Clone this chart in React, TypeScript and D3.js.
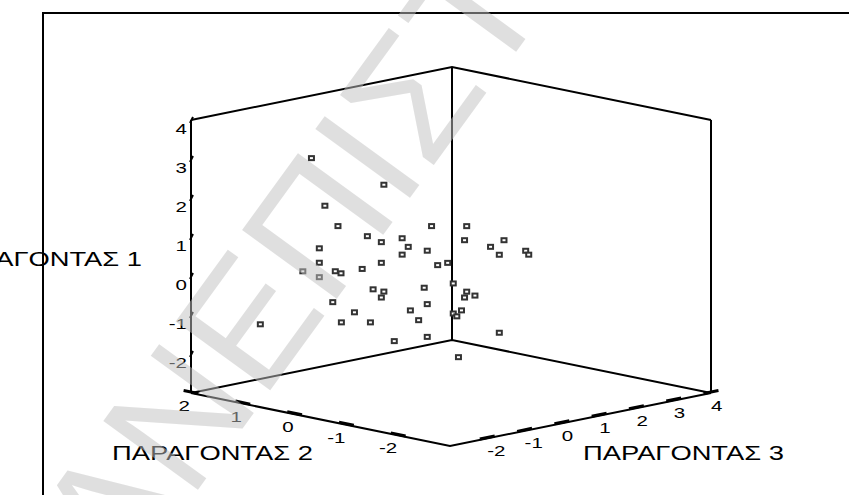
import React from "react";
import * as d3 from "d3";

// factor scores (depth split evenly between factor 2 and 3)
const factor1 = [
  2.98, 2.3, 1.76, 1.24, 0.98, 1.24, 1.24, 0.83, 0.93, 0.71, 0.88, 0.88, 0.71,
  0.61, 0.51, 0.51, 0.67, 0.61, 0.51, 0.3, 0.3, 0.24, 0.3, 0.08, 0.08, 0.03,
  0.14, -0.07, -0.23, -0.34, -0.38, -0.44, -0.59, -0.44, -0.59, -0.54, -0.76,
  -0.71, -0.92, -0.92, -1.0, -1.07, -0.97, -1.23, -1.23, -1.17, -1.28, -1.49,
  -1.6, -1.71, -2.12,
];
const factor2 = [
  0.92, 0.22, 0.79, 0.66, 0.38, -0.24, -0.58, 0.24, 0.04, -0.02, -0.56, -0.94,
  -0.81, -1.15, -1.18, -0.9, 0.84, -0.2, 0.04, 0.84, 0.24, -0.3, -0.4, 1.0,
  0.69, 0.63, 0.43, 0.84, -0.45, -0.17, 0.32, 0.22, 0.24, -0.58, -0.56, -0.66,
  -0.2, 0.71, -0.04, -0.53, -0.45, -0.49, 0.5, 0.63, 0.35, -0.12, 1.41, -0.9,
  -0.2, 0.12, -0.5,
];
const factor3 = [
  -1.27, -0.3, -1.09, -0.92, -0.52, 0.34, 0.81, -0.34, -0.06, 0.02, 0.78, 1.31,
  1.13, 1.6, 1.64, 1.24, -1.17, 0.28, -0.06, -1.17, -0.34, 0.42, 0.55, -1.39,
  -0.95, -0.88, -0.59, -1.17, 0.63, 0.24, -0.45, -0.3, -0.34, 0.81, 0.78, 0.92,
  0.28, -0.99, 0.05, 0.74, 0.63, 0.67, -0.7, -0.87, -0.48, 0.16, -1.96, 1.24,
  0.28, -0.16, 0.7,
];

const ticks1 = [-2, -1, 0, 1, 2, 3, 4];
const ticks2 = [-2, -1, 0, 1, 2];
const ticks3 = [-2, -1, 0, 1, 2, 3, 4];

const title1 = "ΠΑΡΑΓΟΝΤΑΣ 1";
const title2 = "ΠΑΡΑΓΟΝΤΑΣ 2";
const title3 = "ΠΑΡΑΓΟΝΤΑΣ 3";
const watermark = "ΠΑΝΕΠΙΣΤΗΜΙΟ";

const W = 849;
const H = 495;
const SX = 1.366; // SPSS output is stretched horizontally
const FONT = "'Liberation Sans', Arial, sans-serif";

// oblique projection of the cube
const origin: [number, number] = [450, 446];
const ax1: [number, number] = [0, -273];
const ax2: [number, number] = [-259, -53];
const ax3: [number, number] = [261, -53];

const s1 = d3.scaleLinear().domain([-3, 4]).range([0, 1]);
const s2 = d3.scaleLinear().domain([-3, 2]).range([0, 1]);
const s3 = d3.scaleLinear().domain([-3, 4]).range([0, 1]);

const proj = (a: number, b: number, c: number): [number, number] => {
  const t1 = s1(a), t2 = s2(b), t3 = s3(c);
  return [
    origin[0] + t1 * ax1[0] + t2 * ax2[0] + t3 * ax3[0],
    origin[1] + t1 * ax1[1] + t2 * ax2[1] + t3 * ax3[1],
  ];
};

const Label = ({ x, y, text, size, anchor }: any) => (
  <text
    transform={`translate(${x},${y}) scale(${SX},1)`}
    fontSize={size}
    fontFamily={FONT}
    textAnchor={anchor}
    fill="#000"
  >
    {text}
  </text>
);

export default function App() {
  const [lo1, hi1] = s1.domain();
  const [lo2, hi2] = s2.domain();
  const [lo3, hi3] = s3.domain();

  const line = d3.line();
  const P = (a: number, b: number, c: number) => proj(a, b, c);

  const edges: [number, number][][] = [
    // floor
    [P(lo1, hi2, lo3), P(lo1, lo2, lo3), P(lo1, lo2, hi3)],
    [P(lo1, hi2, lo3), P(lo1, hi2, hi3), P(lo1, lo2, hi3)],
    // verticals
    [P(lo1, hi2, lo3), P(hi1, hi2, lo3)],
    [P(lo1, hi2, hi3), P(hi1, hi2, hi3)],
    [P(lo1, lo2, hi3), P(hi1, lo2, hi3)],
    // top of walls
    [P(hi1, hi2, lo3), P(hi1, hi2, hi3), P(hi1, lo2, hi3)],
  ];

  const pts = factor1.map((f, i) => proj(f, factor2[i], factor3[i]));

  return (
    <svg
      width={W}
      height={H}
      style={{ position: "absolute", left: 0, top: 0, background: "#fff" }}
    >
      <rect width={W} height={H} fill="#fff" />
      {/* outer frame */}
      <path d="M43,497 L43,13 L851,13" fill="none" stroke="#000" strokeWidth={2} />

      {edges.map((e, i) => (
        <path key={i} d={line(e) || ""} fill="none" stroke="#000" strokeWidth={2} />
      ))}

      {/* axis 1 ticks + labels */}
      {ticks1.map((t) => {
        const [x, y] = P(t, hi2, lo3);
        return (
          <g key={"a" + t}>
            <path d={`M${x - 1},${y + 3} L${x + 2},${y - 3}`} stroke="#000" strokeWidth={2} />
            <Label x={x - 4} y={y + 14} text={String(t)} size={15} anchor="end" />
          </g>
        );
      })}
      {/* axis 2 */}
      {ticks2.map((t) => {
        const [x, y] = P(lo1, t, lo3);
        const dx = ax2[0] / 5 / 14, dy = ax2[1] / 5 / 14;
        return (
          <g key={"b" + t}>
            <path
              d={`M${x - dx * 2},${y - dy * 2 - 1} L${x + dx * 2},${y + dy * 2 - 1}`}
              stroke="#000"
              strokeWidth={3}
            />
            <Label x={x - 1} y={y + 18} text={String(t)} size={15} anchor="end" />
          </g>
        );
      })}
      {/* axis 3 */}
      {ticks3.map((t) => {
        const [x, y] = P(lo1, lo2, t);
        const dx = ax3[0] / 7 / 10, dy = ax3[1] / 7 / 10;
        return (
          <g key={"c" + t}>
            <path
              d={`M${x - dx * 2},${y - dy * 2 - 1} L${x + dx * 2},${y + dy * 2 - 1}`}
              stroke="#000"
              strokeWidth={3}
            />
            <Label x={x} y={y + 17.5} text={String(t)} size={15} anchor="start" />
          </g>
        );
      })}

      <Label x={142} y={266} text={title1} size={20} anchor="end" />
      <Label x={112} y={460} text={title2} size={20} anchor="start" />
      <Label x={583} y={460} text={title3} size={20} anchor="start" />

      {pts.map(([x, y], i) => (
        <rect
          key={i}
          x={x - 2.5}
          y={y - 2}
          width={5}
          height={4}
          fill="#fff"
          stroke="#333"
          strokeWidth={2}
        />
      ))}

      {/* watermark */}
      <g opacity={0.5}>
        <text
          transform="translate(51,692) rotate(-54)"
          fontSize={170}
          fontFamily={FONT}
          fill="#c1c1c1"
        >
          {watermark}
        </text>
      </g>
    </svg>
  );
}
